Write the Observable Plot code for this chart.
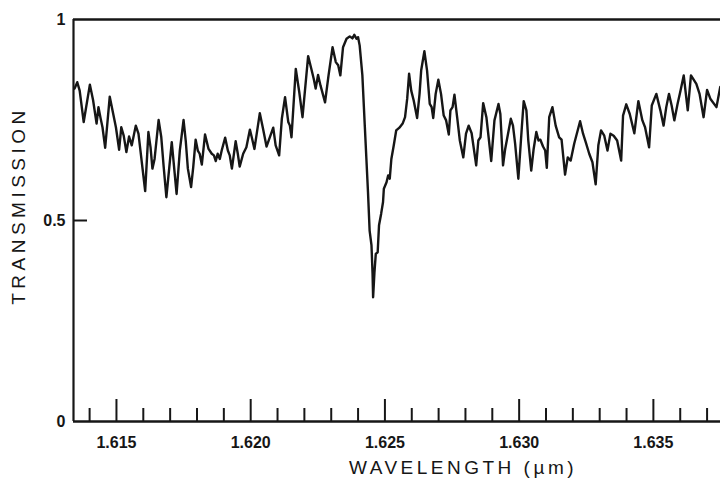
<!DOCTYPE html>
<html><head><meta charset="utf-8">
<script src="https://cdn.jsdelivr.net/npm/d3@7"></script>
<script src="https://cdn.jsdelivr.net/npm/@observablehq/plot@0.6"></script>
<style>body{margin:0;background:#fff}</style>
</head><body><div id="chart"></div>
<script>
const wavelength = [
1.61344,1.61354,1.61363,1.61378,1.61401,1.61413,1.61426,1.61433,1.61441,1.61448,
1.61458,1.61475,1.61488,1.61498,1.61510,1.61518,1.61527,1.61537,1.61547,1.61557,
1.61572,1.61582,1.61607,1.61619,1.61627,1.61634,1.61642,1.61657,1.61667,1.61676,
1.61686,1.61706,1.61724,1.61736,1.61750,1.61758,1.61766,1.61778,1.61786,1.61795,
1.61803,1.61810,1.61818,1.61830,1.61843,1.61855,1.61863,1.61870,1.61877,1.61885,
1.61892,1.61905,1.61915,1.61922,1.61930,1.61944,1.61952,1.61959,1.61972,1.61984,
1.61997,1.62004,1.62014,1.62034,1.62046,1.62059,1.62084,1.62093,1.62106,1.62116,
1.62128,1.62140,1.62146,1.62152,1.62168,1.62181,1.62193,1.62214,1.62226,1.62235,
1.62242,1.62251,1.62260,1.62277,1.62290,1.62305,1.62317,1.62326,1.62334,1.62344,
1.62357,1.62369,1.62379,1.62386,1.62394,1.62400,1.62406,1.62416,1.62425,1.62431,
1.62437,1.62443,1.62450,1.62454,1.62456,1.62461,1.62466,1.62473,1.62478,1.62486,
1.62493,1.62496,1.62506,1.62512,1.62518,1.62524,1.62533,1.62542,1.62554,1.62566,
1.62575,1.62583,1.62590,1.62598,1.62607,1.62620,1.62629,1.62635,1.62647,1.62657,
1.62667,1.62674,1.62680,1.62689,1.62699,1.62709,1.62719,1.62728,1.62738,1.62744,
1.62752,1.62759,1.62769,1.62779,1.62792,1.62802,1.62812,1.62823,1.62840,1.62848,
1.62856,1.62866,1.62878,1.62896,1.62908,1.62923,1.62930,1.62940,1.62948,1.62969,
1.62977,1.62985,1.62997,1.63010,1.63017,1.63027,1.63034,1.63045,1.63054,1.63064,
1.63072,1.63079,1.63089,1.63097,1.63103,1.63112,1.63124,1.63136,1.63149,1.63158,
1.63171,1.63181,1.63192,1.63205,1.63227,1.63238,1.63248,1.63261,1.63273,1.63285,
1.63295,1.63305,1.63317,1.63329,1.63340,1.63352,1.63365,1.63380,1.63387,1.63399,
1.63412,1.63429,1.63444,1.63459,1.63469,1.63484,1.63494,1.63511,1.63526,1.63538,
1.63548,1.63558,1.63568,1.63578,1.63590,1.63601,1.63613,1.63628,1.63640,1.63660,
1.63672,1.63687,1.63700,1.63712,1.63735,1.63749
];
const transmission = [
0.828,0.844,0.823,0.745,0.838,0.799,0.741,0.782,0.754,0.732,
0.681,0.808,0.765,0.732,0.676,0.732,0.711,0.670,0.709,0.687,
0.736,0.716,0.573,0.720,0.682,0.629,0.653,0.750,0.707,0.633,
0.558,0.695,0.566,0.674,0.750,0.699,0.629,0.583,0.633,0.701,
0.674,0.666,0.639,0.714,0.678,0.666,0.662,0.648,0.666,0.653,
0.674,0.706,0.674,0.662,0.629,0.697,0.666,0.634,0.666,0.682,
0.726,0.707,0.678,0.767,0.728,0.684,0.731,0.687,0.662,0.753,
0.807,0.745,0.736,0.707,0.877,0.819,0.757,0.909,0.877,0.852,
0.828,0.862,0.836,0.794,0.861,0.931,0.894,0.886,0.861,0.931,
0.952,0.958,0.953,0.962,0.952,0.956,0.935,0.861,0.736,0.653,
0.570,0.475,0.438,0.367,0.309,0.371,0.417,0.421,0.488,0.517,
0.546,0.579,0.595,0.612,0.604,0.653,0.687,0.724,0.731,0.741,
0.757,0.803,0.865,0.823,0.799,0.755,0.815,0.873,0.921,0.873,
0.790,0.782,0.755,0.815,0.850,0.815,0.761,0.749,0.714,0.774,
0.782,0.813,0.757,0.699,0.657,0.716,0.736,0.717,0.637,0.699,
0.707,0.792,0.757,0.648,0.749,0.790,0.765,0.637,0.678,0.753,
0.736,0.691,0.604,0.732,0.797,0.774,0.699,0.624,0.678,0.720,
0.699,0.701,0.684,0.674,0.631,0.757,0.782,0.736,0.707,0.701,
0.614,0.657,0.649,0.691,0.747,0.716,0.695,0.666,0.645,0.590,
0.687,0.724,0.711,0.674,0.716,0.711,0.699,0.649,0.761,0.789,
0.765,0.717,0.797,0.749,0.732,0.682,0.786,0.815,0.774,0.736,
0.782,0.815,0.786,0.749,0.790,0.823,0.861,0.774,0.861,0.840,
0.815,0.757,0.825,0.803,0.782,0.832
];
const xMajorTicks = [1.615, 1.620, 1.625, 1.630, 1.635];
const xMinorTicks = [1.614, 1.616, 1.617, 1.618, 1.619, 1.621, 1.622, 1.623, 1.624,
  1.626, 1.627, 1.628, 1.629, 1.631, 1.632, 1.633, 1.634, 1.636, 1.637];
const yTicks = [0, 0.5, 1];
const yInnerTicks = [0.5];
const xDomain = [1.6134, 1.6375];
const yDomain = [0, 1];
const xTitle = "WAVELENGTH (µm)";
const yTitle = "TRANSMISSION";

const data = wavelength.map((w, i) => ({w, t: transmission[i]}));

const W = 720, H = 482, mL = 73, mR = 0, mT = 19, mB = 61;
const innerW = W - mL - mR, innerH = H - mT - mB;
const ink = "#161616";

const chart = Plot.plot({
  width: W, height: H,
  marginLeft: mL, marginRight: mR, marginTop: mT, marginBottom: mB,
  style: {fontFamily: "'Liberation Sans', Arial, Helvetica, sans-serif", background: "#fff", color: ink},
  x: {domain: xDomain},
  y: {domain: yDomain},
  marks: [
    Plot.axisX(xMajorTicks, {tickSize: 0, tickPadding: 15, fontSize: 16, fontWeight: "bold", tickFormat: d3.format(".3f"), label: null}),
    Plot.axisY(yTicks, {tickSize: 0, tickPadding: 8, fontSize: 16, fontWeight: "bold", tickFormat: d => d === 0.5 ? "0.5" : d3.format("d")(d), label: null}),
    Plot.tickX(xMajorTicks, {x: d => d, insetTop: innerH - 22, stroke: ink, strokeWidth: 2}),
    Plot.tickX(xMinorTicks, {x: d => d, insetTop: innerH - 13, stroke: ink, strokeWidth: 2}),
    Plot.tickY(yInnerTicks, {y: d => d, insetRight: innerW - 14, stroke: ink, strokeWidth: 2}),
    Plot.ruleY(yDomain, {stroke: ink, strokeWidth: 2.4}),
    Plot.ruleX([xDomain[0]], {stroke: ink, strokeWidth: 2.2}),
    Plot.line(data, {x: "w", y: "t", stroke: ink, strokeWidth: 2.4, strokeLinejoin: "round"}),
    Plot.text([yTitle], {text: d => d, frameAnchor: "left", textAnchor: "middle", lineAnchor: "middle", rotate: -90, dx: -55, dy: -15, fontSize: 19, fill: ink}),
    Plot.text([xTitle], {text: d => d, frameAnchor: "bottom", textAnchor: "middle", lineAnchor: "middle", dx: 66, dy: 46, fontSize: 19, fill: ink})
  ]
});

d3.select(chart).selectAll('g[aria-label="text"] text').each(function() {
  const t = this.textContent;
  if (t === yTitle) this.setAttribute("letter-spacing", "4.5px");
  if (t === xTitle) this.setAttribute("letter-spacing", "3.5px");
});

document.getElementById("chart").appendChild(chart);
</script>
</body></html>
